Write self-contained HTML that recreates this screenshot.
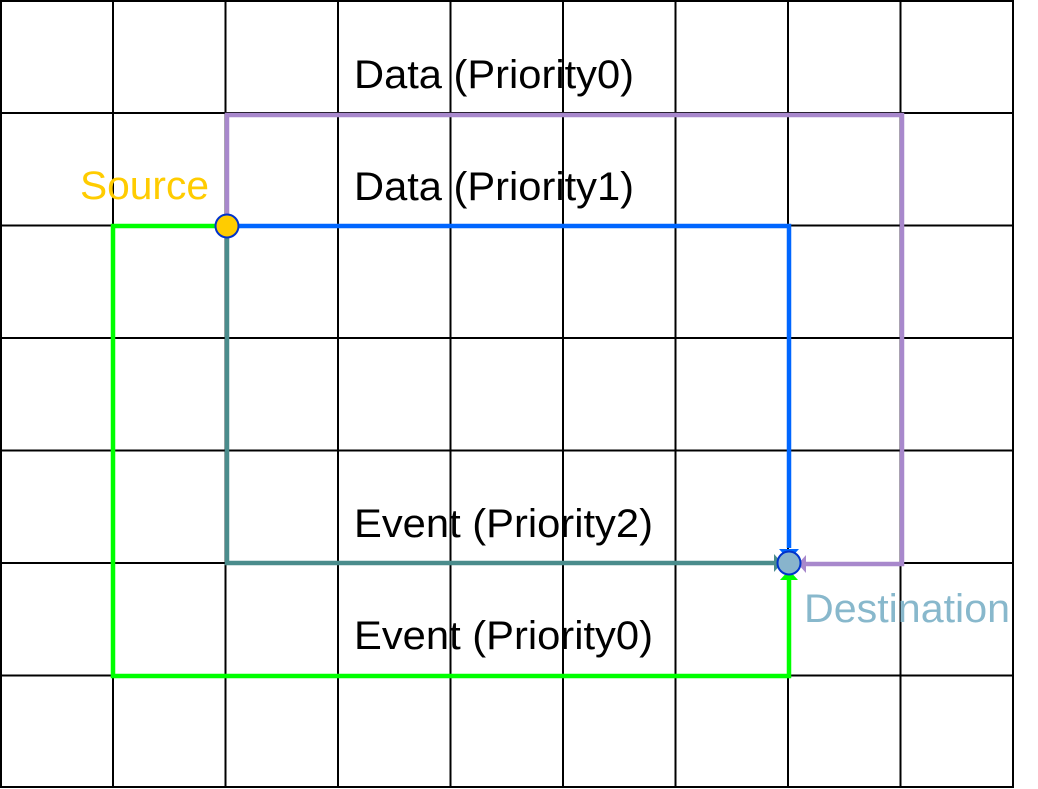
<!DOCTYPE html>
<html><head><style>html,body{margin:0;padding:0;background:#fff}</style></head><body>
<svg width="1038" height="789" viewBox="0 0 1038 789" xmlns="http://www.w3.org/2000/svg" style="display:block">
<g stroke="#000" stroke-width="2" fill="none">
<rect x="1" y="1" width="1012" height="786"/>
<line x1="113" y1="1" x2="113" y2="787"/><line x1="225.5" y1="1" x2="225.5" y2="787"/>
<line x1="338" y1="1" x2="338" y2="787"/><line x1="450.5" y1="1" x2="450.5" y2="787"/>
<line x1="563" y1="1" x2="563" y2="787"/><line x1="675.5" y1="1" x2="675.5" y2="787"/>
<line x1="788" y1="1" x2="788" y2="787"/><line x1="900.5" y1="1" x2="900.5" y2="787"/>
<line x1="1" y1="113" x2="1013" y2="113"/><line x1="1" y1="225.5" x2="1013" y2="225.5"/>
<line x1="1" y1="338" x2="1013" y2="338"/><line x1="1" y1="450.5" x2="1013" y2="450.5"/>
<line x1="1" y1="563" x2="1013" y2="563"/><line x1="1" y1="675.5" x2="1013" y2="675.5"/>
</g>
<g fill="none" stroke-width="4.5">
<polyline stroke="#A888CC" points="227,226 227,115 902,115 902,564 806,564"/>
<polyline stroke="#0066FF" points="227,226 789,226 789,548"/>
<polyline stroke="#4A8C8C" points="227,226 227,563 774,563"/>
<polyline stroke="#00FF00" points="227,226 113,226 113,676 789,676 789,580"/>
</g>
<polygon fill="#0066FF" points="779,549 799,549 789,560"/>
<polygon fill="#4A8C8C" points="774,554 774,572 782,563"/>
<polygon fill="#A888CC" points="806,555 806,573 798,564"/>
<polygon fill="#00FF00" points="780,580 798,580 789,570"/>
<circle cx="227" cy="226" r="11.5" fill="#FFCC00" stroke="#0033CC" stroke-width="2"/>
<circle cx="789" cy="563" r="11.5" fill="#88B4CC" stroke="#0033CC" stroke-width="2"/>
<g font-family="Liberation Sans, sans-serif" font-size="40">
<text x="354" y="88" fill="#000" textLength="280" lengthAdjust="spacingAndGlyphs">Data (Priority0)</text>
<text x="354" y="200" fill="#000" textLength="280" lengthAdjust="spacingAndGlyphs">Data (Priority1)</text>
<text x="354" y="537" fill="#000" textLength="299" lengthAdjust="spacingAndGlyphs">Event (Priority2)</text>
<text x="354" y="649" fill="#000" textLength="299" lengthAdjust="spacingAndGlyphs">Event (Priority0)</text>
<text x="80" y="199" fill="#FFCC00" textLength="129" lengthAdjust="spacingAndGlyphs">Source</text>
<text x="804" y="622" fill="#88B8CC" textLength="206" lengthAdjust="spacingAndGlyphs">Destination</text>
</g>
</svg>
</body></html>
